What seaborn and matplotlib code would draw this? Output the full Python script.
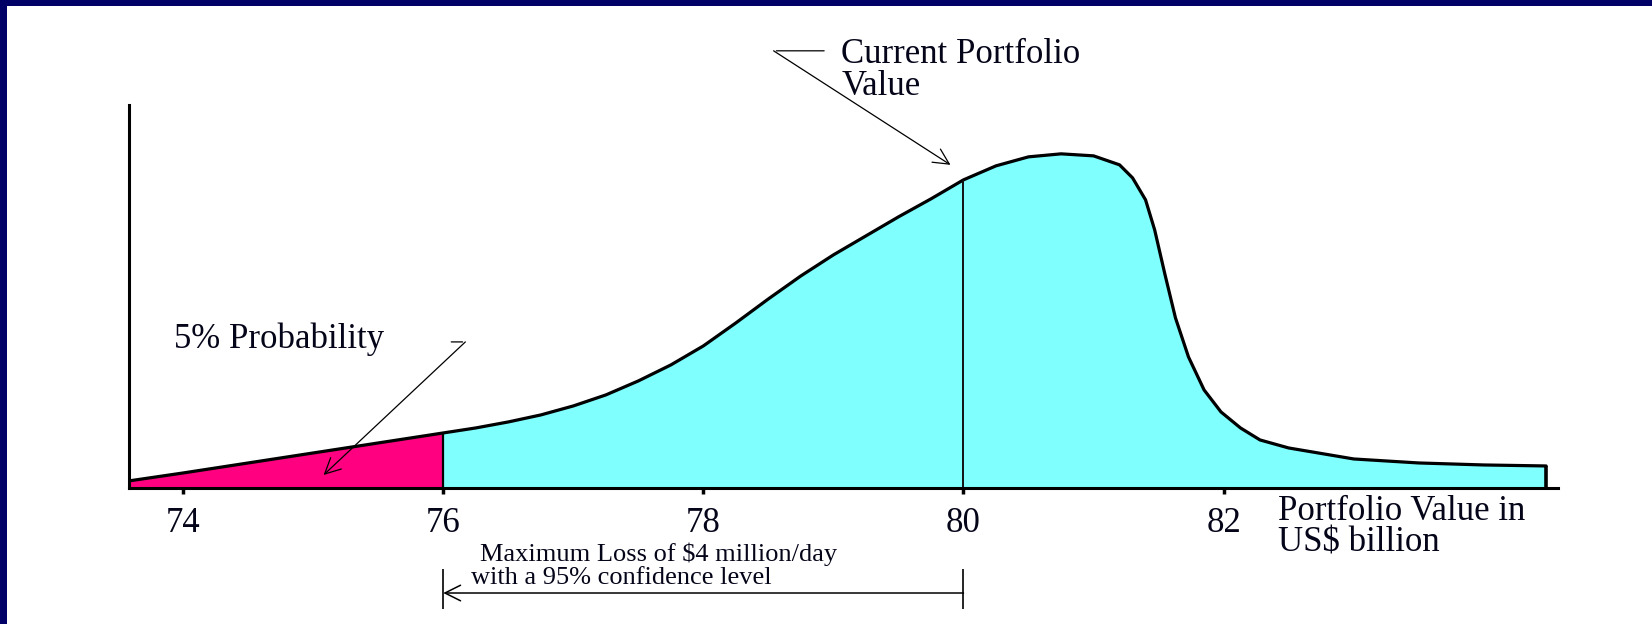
import numpy as np
import matplotlib
matplotlib.use('Agg')
import matplotlib.pyplot as plt
import seaborn as sns
from matplotlib.patches import Rectangle

# portfolio value (US$ bn) and density of the distribution
value = [73.58, 74.0, 74.5, 75.0, 75.5, 76.0, 76.25, 76.5, 76.75, 77.0, 77.25, 77.5, 77.75,
         78.0, 78.25, 78.5, 78.75, 79.0, 79.25, 79.5, 79.75, 80.0, 80.25, 80.5, 80.75, 81.0,
         81.2, 81.3, 81.4, 81.47, 81.55, 81.63, 81.73, 81.85, 81.98, 82.13, 82.28, 82.5,
         83.0, 83.5, 84.0, 84.48]
density = [0.007, 0.015, 0.025, 0.035, 0.045, 0.055, 0.060, 0.066, 0.073, 0.082, 0.093,
           0.107, 0.123, 0.142, 0.165, 0.189, 0.212, 0.233, 0.252, 0.271, 0.289, 0.308,
           0.322, 0.331, 0.334, 0.332, 0.323, 0.310, 0.288, 0.258, 0.213, 0.170, 0.131,
           0.098, 0.076, 0.060, 0.048, 0.040, 0.029, 0.025, 0.023, 0.022]
tick_values = [74, 76, 78, 80, 82]
var_cutoff = 76      # 5% quantile
current_value = 80   # current portfolio value

navy = '#000066'
pink = '#ff0080'
cyan = '#80ffff'
ink = '#05051a'
serif = ['Liberation Serif', 'DejaVu Serif']

sns.set_style('white')
plt.rcParams['font.family'] = serif
plt.rcParams['text.color'] = ink
plt.rcParams['xtick.color'] = ink

x = np.array(value)
y = np.array(density)

fig = plt.figure(figsize=(16.52, 6.24), dpi=100)
ax = fig.add_axes([0.0778, 0.218, 0.8652, 0.614])

# shaded areas under the curve
ax.fill_between(x, y, where=x <= var_cutoff, color=pink, lw=0)
ax.fill_between(x, y, where=x >= var_cutoff, color=cyan, lw=0)
sns.lineplot(x=x, y=y, ax=ax, color='black', lw=2.3, sort=False)

# boundary lines
ax.vlines(var_cutoff, 0, y[x == var_cutoff][0], color='black', lw=1.6)
ax.vlines(current_value, 0, y[x == current_value][0], color='#111111', lw=1.4)
ax.vlines(x[-1], 0, y[-1], color='black', lw=2.6)

ax.set_xlim(73.58, 84.57)
ax.set_ylim(0, 0.383)
ax.set_xticks(tick_values)
ax.set_xticklabels([str(t) for t in tick_values])
ax.set_yticks([])
ax.set_xlabel('')
ax.set_ylabel('')
ax.tick_params(axis='x', direction='out', length=4, width=2.5, color='black',
               labelsize=25, pad=10, bottom=True)
for s in ['top', 'right']:
    ax.spines[s].set_visible(False)
for s in ['left', 'bottom']:
    ax.spines[s].set_color('black')
    ax.spines[s].set_linewidth(2.2)

# annotations
ax.text(82.42, -0.007, 'Portfolio Value in\nUS$ billion', fontsize=25, ha='left', va='top',
        linespacing=0.95)
ax.text(79.06, 0.45, 'Current Portfolio\nValue', fontsize=25, ha='left', va='top',
        linespacing=0.95)
ax.annotate('', xy=(78.54, 0.437), xytext=(78.95, 0.437),
            arrowprops=dict(arrowstyle='-', lw=0.9, color='black'), annotation_clip=False)
ax.annotate('', xy=(79.9, 0.323), xytext=(78.54, 0.437),
            arrowprops=dict(arrowstyle='->', lw=0.9, color='black', mutation_scale=28,
                            shrinkA=0, shrinkB=0), annotation_clip=False)

ax.text(73.93, 0.149, '5% Probability', fontsize=25, ha='left', va='center')
ax.annotate('', xy=(76.17, 0.146), xytext=(76.04, 0.146),
            arrowprops=dict(arrowstyle='-', lw=0.9, color='black'), annotation_clip=False)
ax.annotate('', xy=(75.08, 0.013), xytext=(76.17, 0.146),
            arrowprops=dict(arrowstyle='->', lw=0.9, color='black', mutation_scale=28,
                            shrinkA=0, shrinkB=0), annotation_clip=False)

ax.text(76.28, -0.066, 'Maximum Loss of $4 million/day', fontsize=19, ha='left', va='center')
ax.text(76.21, -0.090, 'with a 95% confidence level', fontsize=19, ha='left', va='center')
ax.vlines([var_cutoff, current_value], -0.121, -0.081, color='black', lw=1.2, clip_on=False)
ax.annotate('', xy=(var_cutoff, -0.105), xytext=(current_value, -0.105),
            arrowprops=dict(arrowstyle='->', lw=1.1, color='black', mutation_scale=28,
                            shrinkA=0, shrinkB=0), annotation_clip=False)

# navy frame on the top and left edges
fig.add_artist(Rectangle((0, 0), 7 / 1652, 1, transform=fig.transFigure, color=navy, lw=0))
fig.add_artist(Rectangle((0, 1 - 6 / 624), 1, 6 / 624, transform=fig.transFigure, color=navy, lw=0))

fig.savefig('out.png', dpi=100, facecolor='white')
